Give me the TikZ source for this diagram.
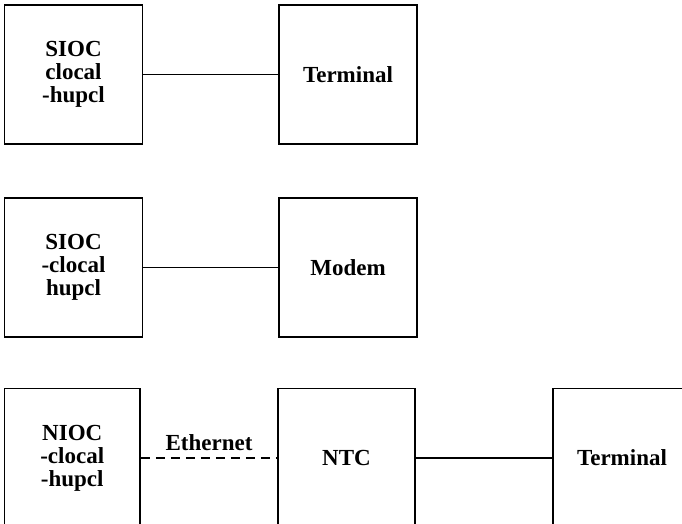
\documentclass[tikz,border=0pt]{standalone}
\usepackage{fontspec}
\setmainfont{Liberation Serif}
\begin{document}
\begin{tikzpicture}[x=1pt,y=-1pt,
  box/.style={draw,line width=1.6pt,minimum width=138pt,minimum height=139pt,inner sep=0pt,
    align=center,font=\fontsize{23}{23}\selectfont\bfseries},
  conn/.style={line width=1.4pt},
  eth/.style={line width=1.6pt,dash pattern=on 9pt off 6pt}]
\useasboundingbox (0,0) rectangle (682,523);
\clip (0,0) rectangle (682,523);
% row 1
\node[box] (s1) at (73.5,74.5) {SIOC\\clocal\\-hupcl};
\node[box] (t1) at (348,74.5) {Terminal};
\draw[conn] (s1.east) -- (t1.west);
% row 2
\node[box] (s2) at (73.5,267.5) {SIOC\\-clocal\\hupcl};
\node[box] (m2) at (348,267.5) {Modem};
\draw[conn] (s2.east) -- (m2.west);
% row 3
\node[box,minimum width=135.5pt] (n3) at (72.25,458) {NIOC\\-clocal\\-hupcl};
\node[box,minimum width=137pt] (ntc) at (346.5,458) {NTC};
\node[box] (t3) at (622,458) {Terminal};
\draw[eth] (n3.east) -- node[above=3pt,font=\fontsize{23}{23}\selectfont\bfseries] (ethl) {Ethernet} (ntc.west);
\draw[conn] (ntc.east) -- (t3.west);
\end{tikzpicture}
\end{document}
